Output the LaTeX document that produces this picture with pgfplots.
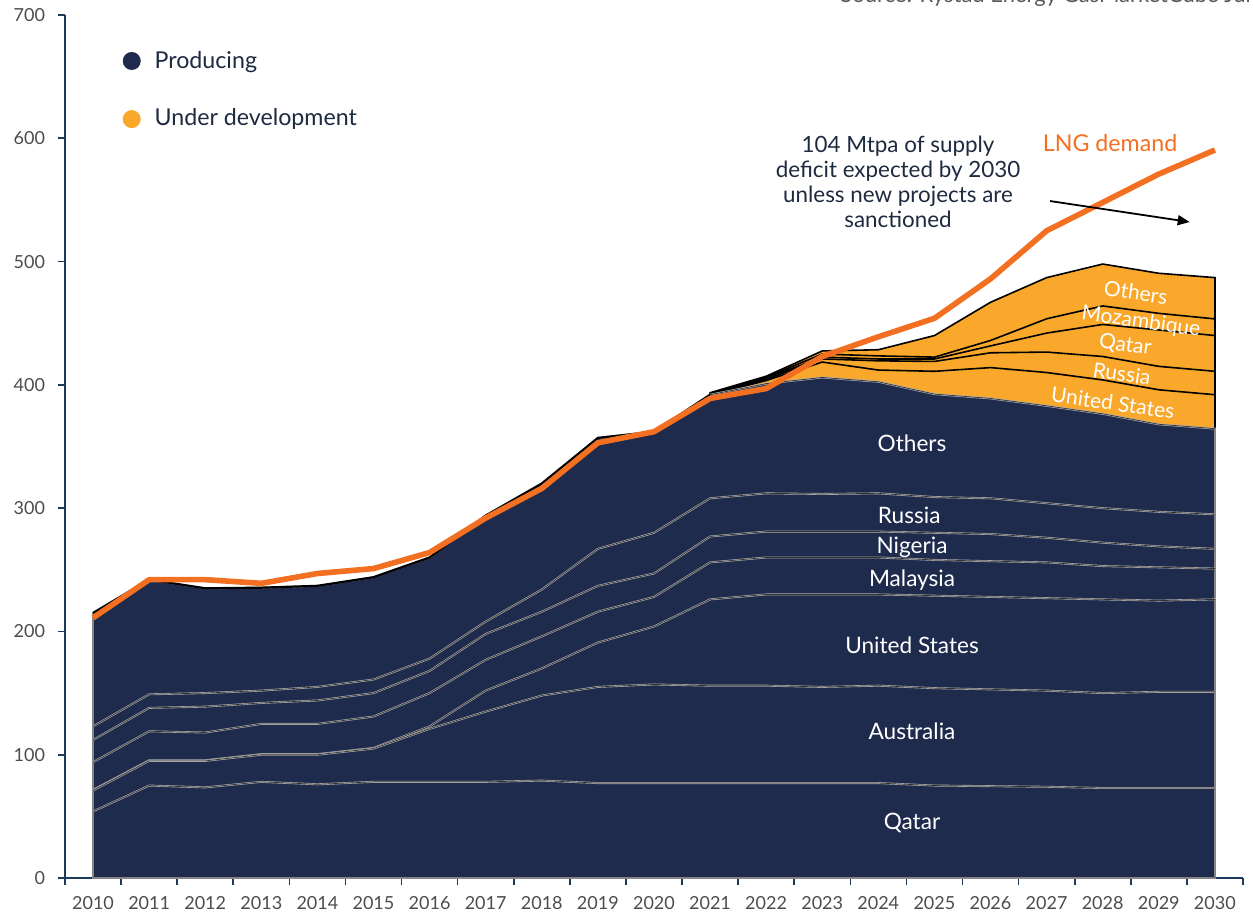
\documentclass[border=0pt]{standalone}
\usepackage{pgfplots}
\pgfplotsset{compat=1.18}
\usepackage{pgfplotstable}
\usetikzlibrary{arrows.meta}
\usepackage{fontspec}
\setmainfont{Lato}
\definecolor{navy}{HTML}{1F2B4D}
\definecolor{gold}{HTML}{F9A82B}
\definecolor{demand}{HTML}{F36F21}
\definecolor{axiscol}{HTML}{1B3A5C}
\definecolor{txt}{HTML}{1E2A40}

% producing capacity, cumulative tops of each layer (Mtpa)
\pgfplotstableread{
year qa au us my ng ru ot
2010 54 71 71.5 94 112 123 215
2011 75 95 95.5 119 138 149 242
2012 73.5 95 95.5 118 139 150 235
2013 78 100 100.5 125 142 152 235.5
2014 76 100 100.5 125 144 155 237
2015 78 105 105.5 131 150 161 244
2016 78 121 123 150 168 178 260
2017 78 135 152 177 198 208 294
2018 79 148 170 196 216 234 320
2019 77 155 191 216 237 267 357
2020 77 157 204 228 247 280 362
2021 77 156 226 256 277 308 392
2022 77 156 230 260 281 312 401
2023 77 155 230 260 281 311.5 406
2024 77 156 230 260 281 312 402.5
2025 75 154 229 258 280 309 392.5
2026 74.5 153 228 257 279 308 389
2027 74 152 227 256 276 304 383
2028 73 150 226 253 272 300 376.5
2029 73 151 225 252 269 297 368
2030 73 151 226 251 267 295 364.5
}\prodtab

% under development, cumulative tops
\pgfplotstableread{
year us ru qa mz ot
2021 392 392.3 392.6 393 393.6
2022 403.5 404.5 405.5 406.2 407
2023 418.5 421 422.5 425 427.5
2024 412 419.5 421 423.5 428.5
2025 411 419 421 422.5 440
2026 414 426 431.6 436 467
2027 410 426.6 442 453.6 487
2028 404 423 449 464 498
2029 396 415 444.5 458 490.5
2030 392 411 440 453.5 487
}\devtab

\pgfplotstableread{
year d
2010 211
2011 242
2012 242
2013 239
2014 247
2015 251
2016 264
2017 292
2018 316
2019 353
2020 362
2021 389
2022 397
2023 423
2024 439
2025 454
2026 486
2027 525
2028 548
2029 571
2030 590.5
}\demtab

\pgfplotsset{
  prod/.style={fill=navy, draw=white!70!black, double=black!80, double distance=0.35pt, line width=0.3pt},
  dev/.style={fill=gold, draw=black, line width=0.8pt},
}

\begin{document}
\begin{tikzpicture}
\useasboundingbox (-32.5pt,-17pt) rectangle (594pt,439pt);
\begin{axis}[scale only axis, width=589pt, height=431.5pt,
  xmin=2009.5, xmax=2030.5, ymin=0, ymax=700, clip=false,
  axis lines=left, axis line style={-, draw=axiscol, line width=0.9pt},
  xtick={2010,...,2030}, major x tick style={draw=none},
  minor xtick={2009.5,2010.5,...,2030.5},
  ytick={0,100,...,700},
  tick align=outside, major tick length=3.5pt, minor tick length=3.5pt,
  tick style={draw=axiscol, line width=0.8pt},
  /pgf/number format/1000 sep={}, /pgf/number format/assume math mode=true,
  tick label style={font=\fontsize{9}{10}\selectfont, text=black!70},
  xticklabel style={yshift=-2pt}, yticklabel style={xshift=-3pt}]

\addplot[dev] table[x=year,y=ot]{\devtab} \closedcycle;
\addplot[dev] table[x=year,y=mz]{\devtab} \closedcycle;
\addplot[dev] table[x=year,y=qa]{\devtab} \closedcycle;
\addplot[dev] table[x=year,y=ru]{\devtab} \closedcycle;
\addplot[dev] table[x=year,y=us]{\devtab} \closedcycle;

\addplot[prod] table[x=year,y=ot]{\prodtab} \closedcycle;
\addplot[prod] table[x=year,y=ru]{\prodtab} \closedcycle;
\addplot[prod] table[x=year,y=ng]{\prodtab} \closedcycle;
\addplot[prod] table[x=year,y=my]{\prodtab} \closedcycle;
\addplot[prod] table[x=year,y=us]{\prodtab} \closedcycle;
\addplot[prod] table[x=year,y=au]{\prodtab} \closedcycle;
\addplot[prod] table[x=year,y=qa]{\prodtab} \closedcycle;

\addplot[black, line width=1.1pt, restrict x to domain=2010:2021] table[x=year,y=ot]{\prodtab};

\addplot[demand, line width=2.8pt, line join=round] table[x=year,y=d]{\demtab};

% labels in the producing layers
\begin{scope}[every node/.style={text=white, font=\fontsize{11.3}{13}\selectfont}]
\node at (axis cs:2024.6,44.6) {Qatar};
\node at (axis cs:2024.6,118.7) {Australia};
\node at (axis cs:2024.6,188.5) {United States};
\node at (axis cs:2024.6,241.5) {Malaysia};
\node at (axis cs:2024.6,268.2) {Nigeria};
\node at (axis cs:2024.55,293.8) {Russia};
\node at (axis cs:2024.6,353) {Others};
\end{scope}
% labels in the under-development layers
\begin{scope}[every node/.style={text=white, font=\fontsize{10.5}{12}\selectfont, rotate=-8, inner sep=0pt}]
\node at (axis cs:2028.59,475) {Others};
\node at (axis cs:2028.68,451) {Mozambique};
\node at (axis cs:2028.4,432) {Qatar};
\node at (axis cs:2028.34,409) {Russia};
\node at (axis cs:2028.18,385.4) {United States};
\end{scope}

% legend
\fill[navy] (axis cs:2010.69,662.7) circle (4.5pt);
\fill[gold] (axis cs:2010.69,615.6) circle (4.5pt);
\begin{scope}[every node/.style={anchor=base west, inner sep=0pt, text=txt, font=\fontsize{11.6}{13}\selectfont}]
\node at (axis cs:2011.09,656.8) {Producing};
\node at (axis cs:2011.09,610) {Under development};
\end{scope}

% annotations
\node[text=demand, font=\fontsize{11.6}{13}\selectfont] at (axis cs:2028.13,596.2) {LNG demand};
\node[text=txt, align=center, font=\fontsize{11.2}{12.5}\selectfont] at (axis cs:2024.35,564.5)
  {104 Mtpa of supply\\deficit expected by 2030\\unless new projects are\\sanctioned};
\draw[-{Triangle[length=6pt,width=5pt]}, line width=0.9pt] (axis cs:2027.06,549.1) -- (axis cs:2029.55,532.1);
\end{axis}
\node[anchor=base west, inner sep=0pt, text=black!65, font=\fontsize{11}{13}\selectfont] at (387.5pt,437.5pt)
  {Source: Rystad Energy GasMarketCube June 2023};
\end{tikzpicture}
\end{document}
